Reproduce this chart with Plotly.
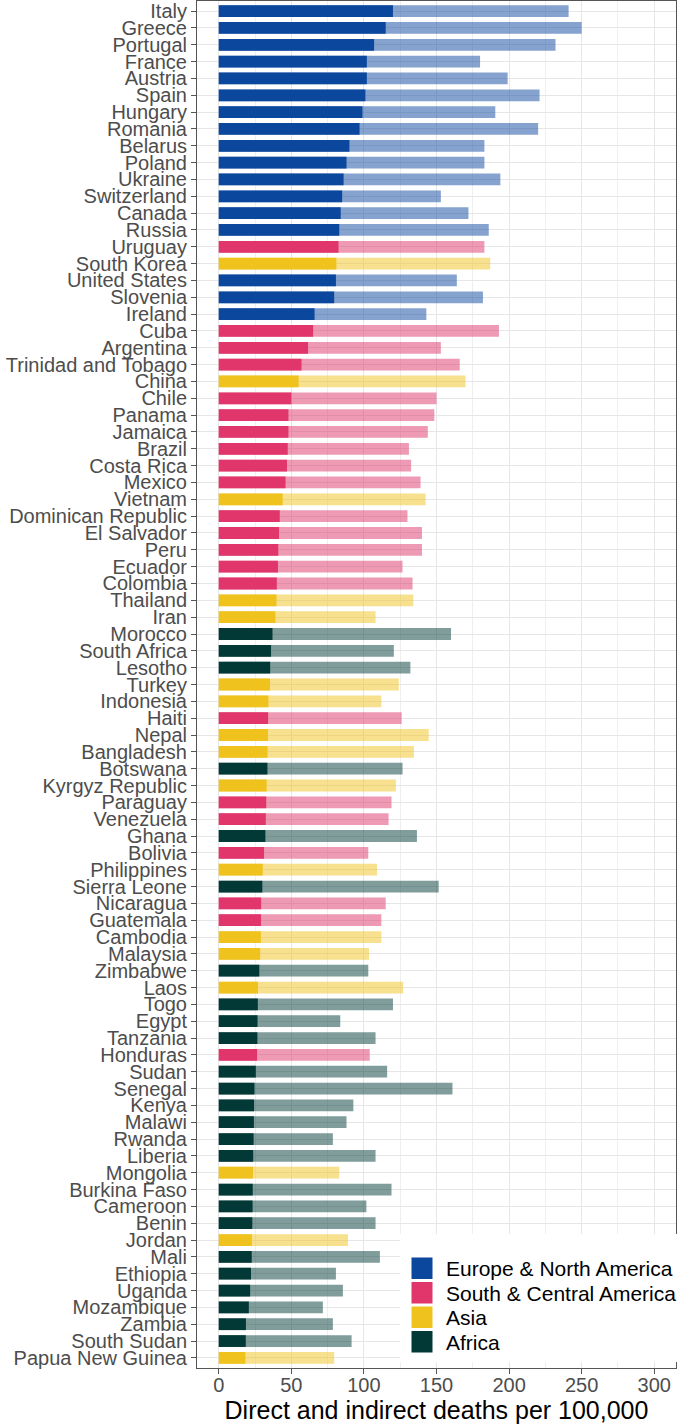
import plotly.graph_objects as go

countries = ["Italy", "Greece", "Portugal", "France", "Austria", "Spain", "Hungary", "Romania",
             "Belarus", "Poland", "Ukraine", "Switzerland", "Canada", "Russia", "Uruguay",
             "South Korea", "United States", "Slovenia", "Ireland", "Cuba", "Argentina",
             "Trinidad and Tobago", "China", "Chile", "Panama", "Jamaica", "Brazil", "Costa Rica",
             "Mexico", "Vietnam", "Dominican Republic", "El Salvador", "Peru", "Ecuador",
             "Colombia", "Thailand", "Iran", "Morocco", "South Africa", "Lesotho", "Turkey",
             "Indonesia", "Haiti", "Nepal", "Bangladesh", "Botswana", "Kyrgyz Republic",
             "Paraguay", "Venezuela", "Ghana", "Bolivia", "Philippines", "Sierra Leone",
             "Nicaragua", "Guatemala", "Cambodia", "Malaysia", "Zimbabwe", "Laos", "Togo",
             "Egypt", "Tanzania", "Honduras", "Sudan", "Senegal", "Kenya", "Malawi", "Rwanda",
             "Liberia", "Mongolia", "Burkina Faso", "Cameroon", "Benin", "Jordan", "Mali",
             "Ethiopia", "Uganda", "Mozambique", "Zambia", "South Sudan", "Papua New Guinea"]

E, S, A, F = "Europe & North America", "South & Central America", "Asia", "Africa"
regions = [E, E, E, E, E, E, E, E,
           E, E, E, E, E, E, S,
           A, E, E, E, S, S,
           S, A, S, S, S, S, S,
           S, A, S, S, S, S,
           S, A, A, F, F, F, A,
           A, S, A, A, F, A,
           S, S, F, S, A, F,
           S, S, A, A, F, A, F,
           F, F, S, F, F, F, F, F,
           F, A, F, F, F, A, F,
           F, F, F, F, F, A]

direct = [120, 115, 107, 102, 102, 101, 99, 97,
          90, 88, 86, 85, 84, 83, 82.5,
          81, 80.7, 79.5, 66, 65, 61.5,
          57, 55, 50, 48, 48, 47.5, 47,
          46, 44, 42, 41.5, 41, 40.8,
          40, 39.8, 39, 37, 36, 35.4, 35.3,
          34.2, 34, 33.9, 33.6, 33.5, 33,
          32.7, 32.4, 32.1, 31.2, 30.3, 30,
          29.2, 29.1, 29, 28.5, 27.9, 27, 26.9,
          26.7, 26.6, 26.4, 25.5, 24.6, 24.3, 24.2, 24,
          23.7, 23.6, 23.4, 23.3, 23.1, 22.8, 22.7,
          22.2, 21.6, 20.7, 18.7, 18.6, 18.3]

total = [241, 250, 232, 180, 199, 221, 190.5, 220,
         183, 183, 194, 153, 172, 186, 183,
         187, 164, 182, 143, 193, 153,
         166, 170, 150, 148.5, 144, 131, 132.5,
         139, 142.5, 130, 140, 140, 126.6,
         133.5, 134, 108, 160, 120.6, 132, 124,
         112, 126, 144.6, 134.4, 126.6, 122,
         119, 117, 136.5, 103, 109, 151.5,
         115, 112, 112, 103.5, 103, 127, 120,
         83.7, 108, 104, 116, 161, 92.7, 88, 78.6,
         108, 83, 119, 101.7, 108, 89, 111,
         80.7, 85.5, 71.7, 78.6, 91.5, 79.5]

region_order = [E, S, A, F]
region_colors = {E: "#0b479d", S: "#e0366c", A: "#f0c21e", F: "#023937"}


def rgba(hex_color, a):
    h = hex_color.lstrip("#")
    r, g, b = int(h[0:2], 16), int(h[2:4], 16), int(h[4:6], 16)
    return f"rgba({r},{g},{b},{a})"


dark_cols = [region_colors[r] for r in regions]
light_cols = [rgba(region_colors[r], 0.5) for r in regions]

W, H = 683, 1424
ML, MR, MT, MB = 197, 7, 1, 56
PW, PH = W - ML - MR, H - MT - MB

fig = go.Figure()
fig.add_trace(go.Bar(y=countries, x=total, orientation="h", width=0.7,
                     marker=dict(color=light_cols, line=dict(width=0)),
                     showlegend=False, hoverinfo="x+y"))
fig.add_trace(go.Bar(y=countries, x=direct, orientation="h", width=0.7,
                     marker=dict(color=dark_cols, line=dict(width=0)),
                     showlegend=False, hoverinfo="x+y"))

n = len(countries)


def px_to_paper_x(px):
    return (px - ML) / PW


def px_to_paper_y(py):
    return (H - MB - py) / PH


shapes = []
annotations = []
# legend background box (covers grid and panel border like the reference)
shapes.append(dict(type="rect", xref="paper", yref="paper", layer="above",
                   x0=px_to_paper_x(400), x1=px_to_paper_x(690),
                   y0=px_to_paper_y(1362), y1=px_to_paper_y(1234),
                   fillcolor="white", line=dict(width=0)))
key_tops = [1257, 1281.5, 1306, 1330.5]
for reg, top in zip(region_order, key_tops):
    shapes.append(dict(type="rect", xref="paper", yref="paper", layer="above",
                       x0=px_to_paper_x(411), x1=px_to_paper_x(433),
                       y0=px_to_paper_y(top + 22.5), y1=px_to_paper_y(top),
                       fillcolor=region_colors[reg], line=dict(width=1, color="white")))
    annotations.append(dict(xref="paper", yref="paper", x=px_to_paper_x(445),
                            y=px_to_paper_y(top + 11.5), text=reg, showarrow=False,
                            xanchor="left", yanchor="middle", borderpad=0,
                            font=dict(family="Liberation Sans, Arial", size=21, color="black")))

fig.update_layout(
    width=W, height=H,
    margin=dict(l=ML, r=MR, t=MT, b=MB),
    paper_bgcolor="white", plot_bgcolor="white",
    barmode="overlay",
    showlegend=False,
    shapes=shapes, annotations=annotations,
    font=dict(family="Liberation Sans, Arial", color="#4d4d4d"),
)
fig.update_xaxes(
    range=[-15, 315], tick0=0, dtick=50,
    showgrid=True, gridcolor="#e6e6e6", gridwidth=1,
    minor=dict(dtick=25, tick0=0, showgrid=True, gridcolor="#efefef", gridwidth=0.7, ticks=""),
    zeroline=False,
    showline=True, mirror=True, linecolor="#555555", linewidth=1,
    ticks="outside", ticklen=5, tickcolor="#555555",
    ticklabelstandoff=-6,
    tickfont=dict(size=20, color="#4d4d4d"),
    title=dict(text="Direct and indirect deaths per 100,000",
               font=dict(size=25, color="black"), standoff=0),
    automargin=False,
)
fig.update_yaxes(
    type="category", categoryorder="array", categoryarray=countries,
    tickmode="array", tickvals=countries, ticktext=countries,
    range=[n - 1 + 0.6, -0.6],
    showgrid=True, gridcolor="#e6e6e6", gridwidth=1,
    zeroline=False,
    showline=True, mirror=True, linecolor="#555555", linewidth=1,
    ticks="outside", ticklen=5, tickcolor="#555555",
    tickfont=dict(size=20, color="#4d4d4d"),
    automargin=False,
)

fig.write_html("out.html", config={"displayModeBar": False},
               post_script="document.body.style.margin='0';document.body.style.padding='0';")
